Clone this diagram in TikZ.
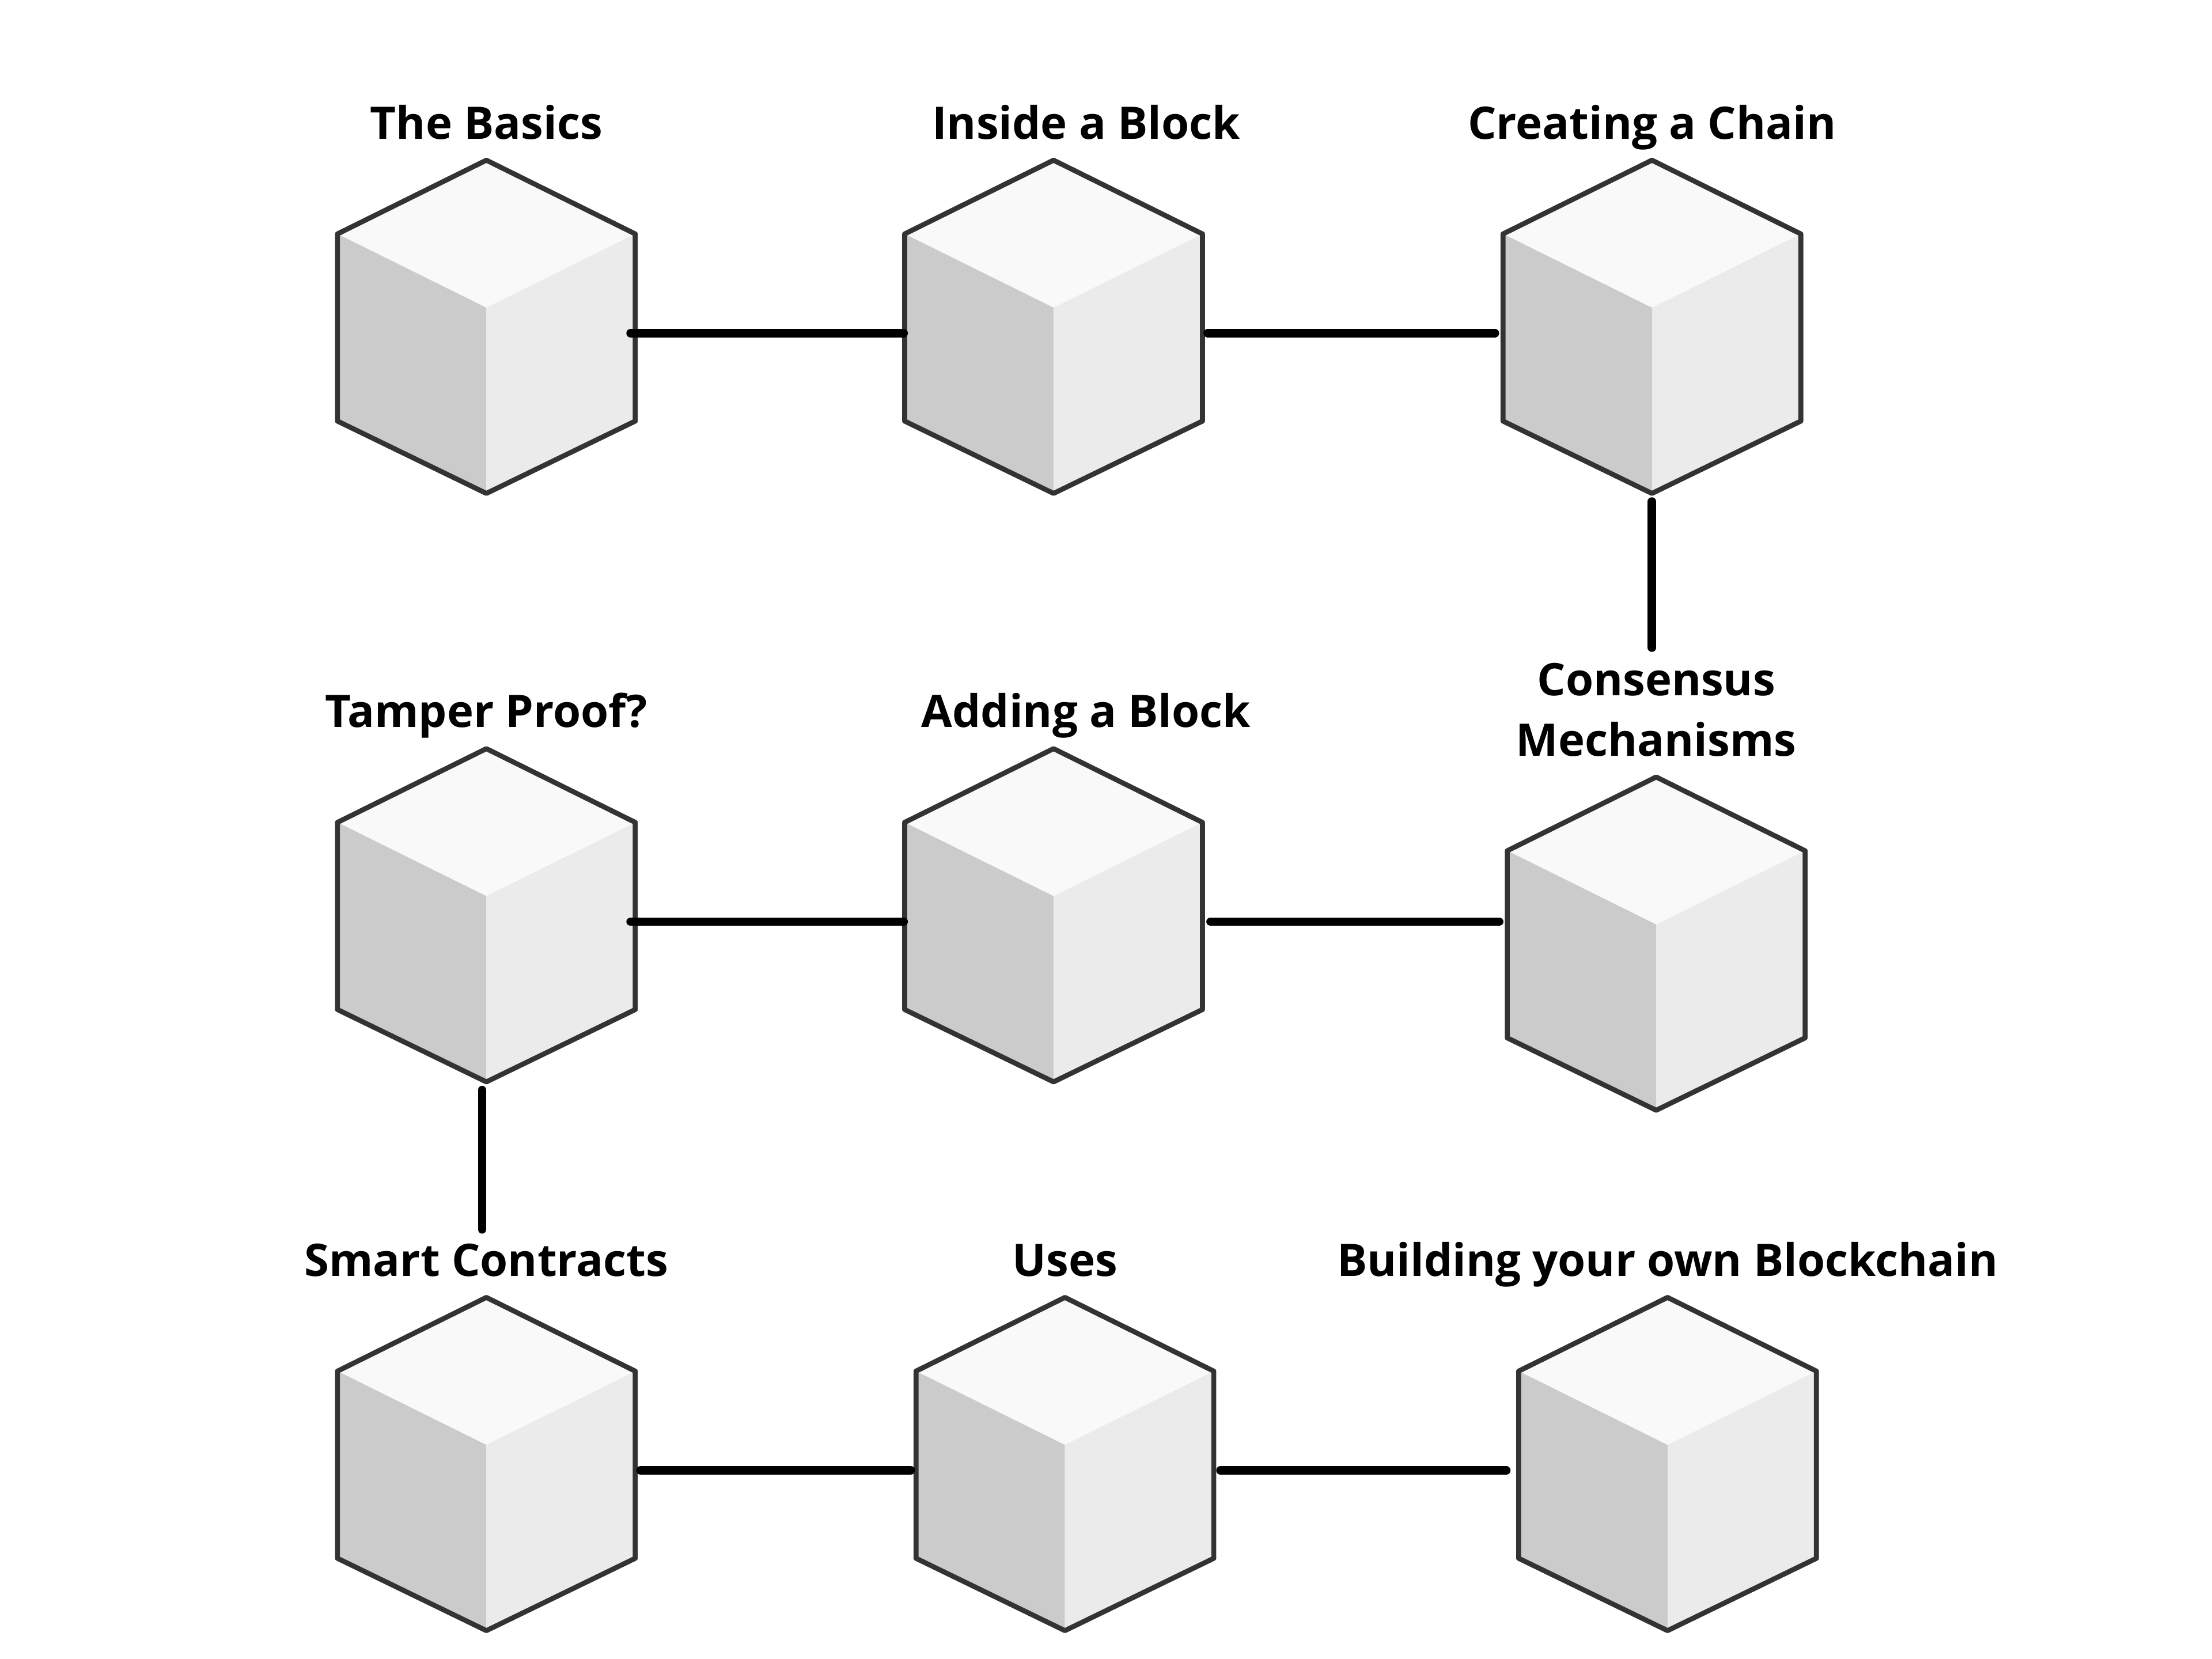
\documentclass[tikz,border=0pt]{standalone}
\usepackage{fontspec}
\setmainfont{Open Sans}
\usepackage{tikz}
\usetikzlibrary{positioning,calc}
\definecolor{CubeTop}{HTML}{F9F9F9}
\definecolor{CubeLeft}{HTML}{CBCBCB}
\definecolor{CubeRight}{HTML}{EBEBEB}
\definecolor{CubeEdge}{HTML}{333333}

\begin{document}
\begin{tikzpicture}[
    block/.style={minimum width=2.1cm, minimum height=2.35cm, inner sep=0pt},
    title/.style={font=\bfseries\fontsize{9}{12.2}\selectfont, align=center, inner sep=0pt,
      text height=1.45ex, text depth=0.35ex},
    link/.style={line width=1.7pt, line cap=round, transform canvas={yshift=-0.45mm}},
    uplink/.style={line width=1.7pt, line cap=round}
  ]
  \useasboundingbox (0,0) rectangle (15.6,11.7);

  % blocks, row by row
  \node[block] (basics)  at (3.43,9.395) {};
  \node[block] (inside)  at (7.43,9.395) {};
  \node[block] (chain)   at (11.65,9.395) {};
  \node[block] (tamper)  at (3.43,5.245) {};
  \node[block] (adding)  at (7.43,5.245) {};
  \node[block] (consens) at (11.68,5.045) {};
  \node[block] (smart)   at (3.43,1.375) {};
  \node[block] (uses)    at (7.51,1.375) {};
  \node[block] (build)   at (11.76,1.375) {};

  % the cubes
  \foreach \n in {basics,inside,chain,tamper,adding,consens,smart,uses,build} {
    \begin{scope}[shift={(\n)}]
      \fill[CubeTop] (0,1.175) -- (-1.05,0.655) -- (0,0.135) -- (1.05,0.655) -- cycle;
      \fill[CubeLeft] (-1.05,0.655) -- (0,0.135) -- (0,-1.175) -- (-1.05,-0.665) -- cycle;
      \fill[CubeRight] (1.05,0.655) -- (0,0.135) -- (0,-1.175) -- (1.05,-0.665) -- cycle;
      \draw[CubeEdge, line width=1pt, line join=round]
        (0,1.175) -- (-1.05,0.655) -- (-1.05,-0.665) -- (0,-1.175)
        -- (1.05,-0.665) -- (1.05,0.655) -- cycle;
    \end{scope}
  }

  % titles
  \node[title, above=0.07cm of basics]  (basicsT)  {The Basics};
  \node[title, above=0.07cm of inside, xshift=2.3mm] (insideT) {Inside a Block};
  \node[title, above=0.07cm of chain]   (chainT)   {Creating a Chain};
  \node[title, above=0.07cm of tamper]  (tamperT)  {Tamper Proof?};
  \node[title, above=0.07cm of adding, xshift=2.3mm] (addingT) {Adding a Block};
  \node[title, text height=, text depth=, above=0.13cm of consens] (consensT) {Consensus\\Mechanisms};
  \node[title, above=0.07cm of smart]   (smartT)   {Smart Contracts};
  \node[title, above=0.07cm of uses]    (usesT)    {Uses};
  \node[title, above=0.07cm of build]   (buildT)   {Building your own Blockchain};

  % links
  \draw[link] ([xshift=-0.4mm]basics.east) -- (inside.west);
  \draw[link] ([xshift=0.3mm]inside.east) -- ([xshift=-0.5mm]chain.west);
  \draw[uplink, shorten <=0.5mm, shorten >=1mm] (chain.south) -- (chain.south |- consensT.north);
  \draw[link] ([xshift=-0.4mm]tamper.east) -- (adding.west);
  \draw[link] ([xshift=0.5mm]adding.east) -- ([xshift=-0.5mm]adding.east -| consens.west);
  \draw[uplink, shorten <=0.5mm, shorten >=0.5mm] ([xshift=-0.3mm]tamper.south) -- ([xshift=-0.3mm]tamper.south |- smartT.north);
  \draw[link] ([xshift=0.3mm]smart.east) -- ([xshift=-0.3mm]uses.west);
  \draw[link] ([xshift=0.4mm]uses.east) -- ([xshift=-0.8mm]build.west);
\end{tikzpicture}
\end{document}
